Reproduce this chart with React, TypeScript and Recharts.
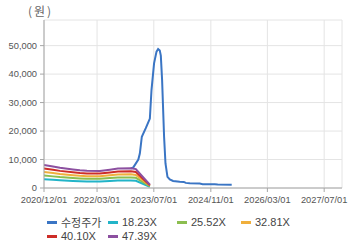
import { LineChart, Line, XAxis, YAxis, CartesianGrid } from 'recharts'

// 수정주가 (adjusted price)
const priceDates = [
  '2022-12-16', '2023-01-05', '2023-02-18', '2023-03-03', '2023-03-07', '2023-03-20',
  '2023-04-23', '2023-05-28', '2023-06-11', '2023-07-03', '2023-07-24', '2023-08-07',
  '2023-08-21', '2023-08-30', '2023-09-10', '2023-09-27', '2023-10-09', '2023-10-26',
  '2023-11-15', '2023-12-13', '2024-02-08', '2024-03-14', '2024-03-31', '2024-05-04',
  '2024-07-29', '2024-08-23', '2024-12-04', '2024-12-30', '2025-04-29',
]
const priceValues = [
  6900, 7180, 10000, 12100, 13500, 18000,
  21000, 24400, 34400, 43800, 47900, 48800,
  48300, 46500, 37900, 18000, 8600, 3900,
  3000, 2450, 2200, 2150, 1800, 1700,
  1600, 1350, 1280, 1200, 1160,
]

// PER bands
const bandDates = [
  '2020-12-01', '2021-02-16', '2021-04-17', '2021-08-06', '2021-10-05', '2021-12-04',
  '2022-03-25', '2022-06-19', '2022-08-27', '2022-12-16', '2023-01-28', '2023-05-28',
]
const band1823 = [3117, 2917, 2735, 2498, 2388, 2315, 2297, 2479, 2643, 2662, 2552, 438]
const band2552 = [4364, 4083, 3828, 3496, 3343, 3241, 3216, 3471, 3700, 3726, 3573, 612]
const band3281 = [5611, 5250, 4922, 4495, 4298, 4167, 4134, 4462, 4757, 4790, 4593, 787]
const band4010 = [6857, 6416, 6015, 5494, 5253, 5093, 5053, 5454, 5815, 5855, 5614, 962]
const band4739 = [8104, 7582, 7109, 6492, 6208, 6019, 5971, 6445, 6872, 6919, 6635, 1137]

const xTickDates = ['2020-12-01', '2022-03-01', '2023-07-01', '2024-11-01', '2026-03-01', '2027-07-01']
const xDomainDates = ['2020-12-01', '2027-12-01']
const yTicks = [0, 10000, 20000, 30000, 40000, 50000]
const yMax = 59000

const ts = (d: string) => Date.parse(d + 'T00:00:00Z')
const pad = (n: number) => (n < 10 ? '0' + n : '' + n)
const fmtDate = (v: number) => {
  const d = new Date(v)
  return `${d.getUTCFullYear()}/${pad(d.getUTCMonth() + 1)}/${pad(d.getUTCDate())}`
}
const toSeries = (dates: string[], values: number[]) => dates.map((d, i) => ({ t: ts(d), v: values[i] }))

const series = [
  { name: '수정주가', color: '#3a75c4', data: toSeries(priceDates, priceValues) },
  { name: '18.23X', color: '#22b4c8', data: toSeries(bandDates, band1823) },
  { name: '25.52X', color: '#8cbe50', data: toSeries(bandDates, band2552) },
  { name: '32.81X', color: '#f0af3c', data: toSeries(bandDates, band3281) },
  { name: '40.10X', color: '#cd2d28', data: toSeries(bandDates, band4010) },
  { name: '47.39X', color: '#8c50a0', data: toSeries(bandDates, band4739) },
]

const axisFont = { fill: '#555', fontSize: 9.3, fontFamily: '"Liberation Sans", Arial, sans-serif' }
const xDomain = xDomainDates.map(ts)

export default function App() {
  return (
    <div style={{ position: 'relative', width: 360, height: 248, background: '#fff' }}>
      <style>{`body{margin:0}`}</style>
      <span style={{ position: 'absolute', left: 28, top: 2, fontSize: 12, color: '#666', letterSpacing: 2, fontFamily: '"Noto Sans CJK KR", sans-serif' }}>(원)</span>

      <LineChart width={360} height={248} margin={{ top: 20, right: 18, bottom: 30, left: 0 }}>
        <CartesianGrid stroke="#e4e4e4" />
        <XAxis dataKey="t" type="number" domain={xDomain} ticks={xTickDates.map(ts)} tickFormatter={fmtDate}
          allowDataOverflow height={30} tick={axisFont} tickSize={4} tickMargin={4} stroke="#a6a6a6" interval={0} />
        <XAxis xAxisId="top" orientation="top" dataKey="t" type="number" domain={xDomain} height={0}
          tick={false} tickLine={false} stroke="#a6a6a6" />
        <YAxis type="number" domain={[0, yMax]} ticks={yTicks} allowDataOverflow width={44}
          tickFormatter={(v: number) => v.toLocaleString('en-US')} tick={axisFont} tickSize={4} tickMargin={3} stroke="#a6a6a6" />
        <YAxis yAxisId="right" orientation="right" type="number" domain={[0, yMax]} width={0}
          tick={false} tickLine={false} stroke="#a6a6a6" />
        {series.map(s => (
          <Line key={s.name} data={s.data} dataKey="v" name={s.name} type="linear" stroke={s.color}
            strokeWidth={2} dot={false} activeDot={false} isAnimationActive={false} />
        ))}
      </LineChart>

      {/* legend */}
      <div style={{
        position: 'absolute', left: 47, top: 215, display: 'grid',
        gridTemplateColumns: '61px 69px 64px 64px', rowGap: 0,
        fontFamily: '"Liberation Sans", "Noto Sans CJK KR", sans-serif', fontSize: 11, color: '#444',
      }}>
        {series.map(s => (
          <div key={s.name} style={{ display: 'flex', alignItems: 'center', height: 14, whiteSpace: 'nowrap' }}>
            <span style={{ display: 'inline-block', width: 10, height: 3, background: s.color, marginRight: 4 }} />
            <span>{s.name}</span>
          </div>
        ))}
      </div>
    </div>
  )
}
